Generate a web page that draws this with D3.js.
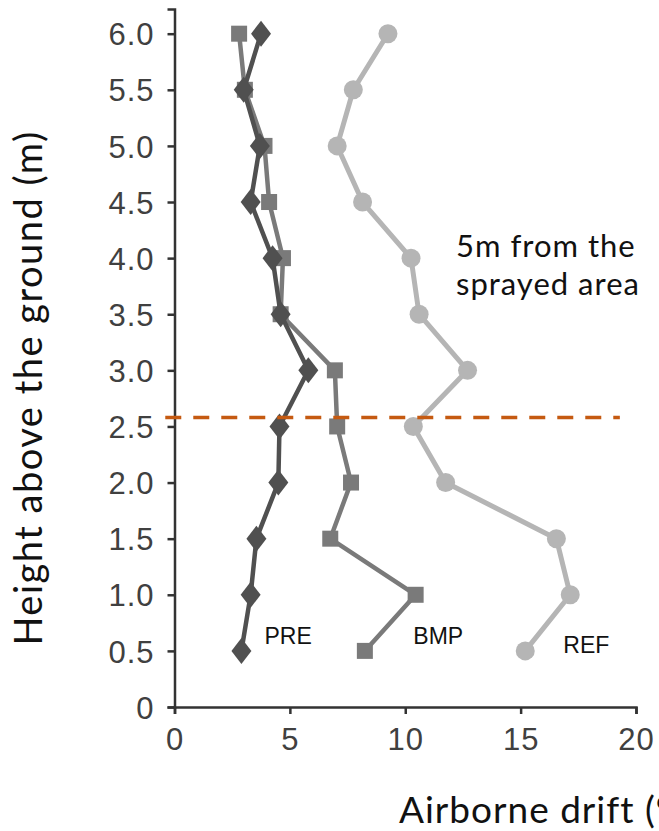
<!DOCTYPE html>
<style>
  html, body { margin:0; background:#fff; overflow:hidden; }
  svg { display:block; }
</style>
<svg width="659" height="831"></svg>
<script src="https://d3js.org/d3.v7.min.js"></script>
<script>

var heights = [0.5, 1.0, 1.5, 2.0, 2.5, 3.0, 3.5, 4.0, 4.5, 5.0, 5.5, 6.0];
var pre = [2.9, 3.3, 3.55, 4.5, 4.55, 5.8, 4.6, 4.25, 3.3, 3.7, 3.0, 3.75];
var bmp = [8.25, 10.45, 6.75, 7.65, 7.05, 6.95, 4.6, 4.7, 4.1, 3.9, 3.05, 2.8];
var ref = [15.2, 17.15, 16.55, 11.75, 10.35, 12.7, 10.6, 10.25, 8.15, 7.05, 7.75, 9.25];
var yTicks = [0, 0.5, 1.0, 1.5, 2.0, 2.5, 3.0, 3.5, 4.0, 4.5, 5.0, 5.5, 6.0];
var xTicks = [0, 5, 10, 15, 20];
var cutHeight = 2.58, cutSpan = [-0.4, 19.3];

var svg = d3.select("svg");

var x = d3.scaleLinear().domain([0, 20]).range([174.5, 636]);
var y = d3.scaleLinear().domain([0, 6.22]).range([707, 9]);

var series = [
  {name: "REF", values: ref, color: "#b5b5b5", width: 5, shape: "circle", lx: 16.85, ly: 0.5},
  {name: "BMP", values: bmp, color: "#7a7a7a", width: 4.5, shape: "square", lx: 10.35, ly: 0.58},
  {name: "PRE", values: pre, color: "#505050", width: 4.5, shape: "diamond", lx: 3.9, ly: 0.58}
];

// axes
var yAxis = svg.append("g")
    .attr("transform", "translate(" + x(0) + ",0)")
    .call(d3.axisLeft(y).tickValues(yTicks).tickSize(7).tickPadding(13)
      .tickFormat(function(d) { return d === 0 ? "0" : d.toFixed(1); }));
var xAxis = svg.append("g")
    .attr("transform", "translate(0," + y(0) + ")")
    .call(d3.axisBottom(x).tickValues(xTicks).tickSize(7).tickPadding(14));

[yAxis, xAxis].forEach(function(g) {
  g.select(".domain").attr("stroke", "#333").attr("stroke-width", 2.5);
  g.selectAll(".tick line").attr("stroke", "#333").attr("stroke-width", 2.5);
  g.selectAll(".tick text")
      .attr("fill", "#404040")
      .style("font-family", "'Liberation Sans', Arial, sans-serif")
      .style("font-size", "31px")
      .style("letter-spacing", "1px");
});
yAxis.selectAll(".tick text").attr("dy", "0.36em");

// series
var line = d3.line()
    .x(function(d) { return x(d[0]); })
    .y(function(d) { return y(d[1]); });

series.forEach(function(s) {
  var pts = s.values.map(function(v, i) { return [v, heights[i]]; });
  var g = svg.append("g");
  g.append("path")
      .attr("d", line(pts))
      .attr("fill", "none")
      .attr("stroke", s.color)
      .attr("stroke-width", s.width)
      .attr("stroke-linejoin", "round");
  var m = g.selectAll(".m").data(pts).enter();
  if (s.shape === "circle") {
    m.append("circle")
        .attr("cx", function(d) { return x(d[0]); })
        .attr("cy", function(d) { return y(d[1]); })
        .attr("r", 9.5)
        .attr("fill", s.color);
  } else if (s.shape === "square") {
    m.append("rect")
        .attr("x", function(d) { return x(d[0]) - 8; })
        .attr("y", function(d) { return y(d[1]) - 8; })
        .attr("width", 16).attr("height", 16)
        .attr("fill", s.color);
  } else {
    m.append("path")
        .attr("d", "M0,-13L10,0L0,13L-10,0Z")
        .attr("transform", function(d) { return "translate(" + x(d[0]) + "," + y(d[1]) + ")"; })
        .attr("fill", s.color);
  }
  svg.append("text")
      .attr("x", x(s.lx))
      .attr("y", y(s.ly))
      .attr("dy", "0.1em")
      .style("font-family", "'Liberation Sans', Arial, sans-serif")
      .style("font-size", "23px")
      .attr("fill", "#111")
      .text(s.name);
});

// cut-off height
svg.append("line")
    .attr("x1", x(cutSpan[0])).attr("x2", x(cutSpan[1]))
    .attr("y1", y(cutHeight)).attr("y2", y(cutHeight))
    .attr("stroke", "#c55a11")
    .attr("stroke-width", 3.5)
    .attr("stroke-dasharray", "16,12");

// annotation + titles
var note = svg.append("text")
    .attr("x", 456)
    .attr("y", 257)
    .style("font-family", "Lato, 'Open Sans', sans-serif")
    .style("font-size", "31px")
    .style("letter-spacing", "1px")
    .attr("fill", "#111");
note.append("tspan").attr("x", 456).text("5m from the");
note.append("tspan").attr("x", 456).attr("dy", 38).text("sprayed area");

svg.append("text")
    .attr("x", 399)
    .attr("y", 823)
    .style("font-family", "Lato, 'Open Sans', sans-serif")
    .style("font-size", "37px")
    .style("letter-spacing", "1px")
    .attr("fill", "#111")
    .text("Airborne drift (%)");

svg.append("text")
    .attr("transform", "translate(42," + 388 + ") rotate(-90)")
    .attr("text-anchor", "middle")
    .style("font-family", "Lato, 'Open Sans', sans-serif")
    .style("font-size", "38px")
    .style("letter-spacing", "1.5px")
    .attr("fill", "#111")
    .text("Height above the ground (m)");

</script>
